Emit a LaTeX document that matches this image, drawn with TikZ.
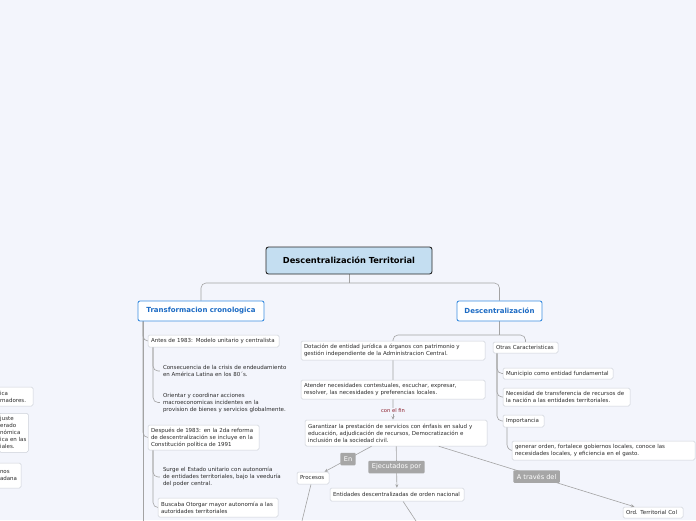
\documentclass[tikz,border=0pt]{standalone}
\usepackage{fontspec}
\setmainfont{DejaVu Sans}
\usetikzlibrary{arrows.meta,calc}
\pgfdeclarelayer{bg}\pgfsetlayers{bg,main}
\definecolor{bgc}{HTML}{F3F5FC}
\definecolor{linec}{HTML}{A3A3A3}
\definecolor{boxb}{HTML}{CDD1D9}
\definecolor{textc}{HTML}{2B2B2B}
\definecolor{blueb}{HTML}{3D8EE0}
\definecolor{bluet}{HTML}{1C6BC4}
\definecolor{rootf}{HTML}{C4DEF1}
\definecolor{lblc}{HTML}{A6A6A6}
\definecolor{finc}{HTML}{8A1C2A}
\tikzset{
 tree/.style={draw=linec, line width=0.6pt},
 sbox/.style={draw=boxb, fill=white, rounded corners=1.5pt, line width=0.5pt, inner xsep=3pt, inner ysep=1pt, align=left, font=\fontsize{5.5}{7}\selectfont, text=textc},
 ntext/.style={sbox, draw=none, fill=none},
 bluebox/.style={draw=blueb, fill=white, rounded corners=2pt, line width=0.9pt, inner xsep=3pt, align=center, font=\fontsize{7}{8}\selectfont\bfseries, text=bluet},
 rootbox/.style={draw=black!85, fill=rootf, rounded corners=2.5pt, line width=0.9pt, inner xsep=3pt, align=center, font=\fontsize{8.3}{9}\selectfont\bfseries},
 lbl/.style={fill=lblc, text=white, rounded corners=1pt, inner xsep=3.5pt, inner ysep=1pt, minimum height=12.5pt, font=\fontsize{6.6}{7}\selectfont},
 finlbl/.style={text=finc, font=\fontsize{5.2}{6}\selectfont, inner sep=1pt},
 arr/.style={tree, -{Stealth[length=3.5pt,width=3pt]}},
}
\newcommand{\bx}[7]{%
 \pgfmathsetmacro{\bxcx}{(#2+#4)/2}%
 \pgfmathsetmacro{\bxcy}{(#3+#5)/2}%
 \pgfmathsetmacro{\bxw}{#4-#2}%
 \pgfmathsetmacro{\bxh}{#5-#3}%
 \pgfmathsetmacro{\bxtw}{#4-#2-6}%
 \node[#6, minimum width=\bxw pt, minimum height=\bxh pt, text width=\bxtw pt] (#1) at (\bxcx,\bxcy) {#7};}
\begin{document}
\begin{tikzpicture}[x=1pt,y=-1pt]
\useasboundingbox (0,0) rectangle (696,520);
\begin{pgfonlayer}{bg}
\fill[bgc] (0,0) rectangle (696,520);
\end{pgfonlayer}
\clip (0,0) rectangle (696,520);

% nodes
\bx{root}{266}{247}{432}{274}{rootbox}{Descentralización Territorial}
\bx{trans}{138}{301}{264}{321}{bluebox}{Transformacion cronologica}
\bx{desc}{457}{301}{542}{321}{bluebox}{Descentralización}

\bx{antes}{148}{335}{279}{347}{sbox}{Antes de 1983: Modelo unitario y centralista}
\bx{cons}{160}{364}{295}{378}{ntext}{Consecuencia de la crisis de endeudamiento\\en América Latina en los 80´s.}
\bx{orient}{160}{392}{295}{413}{ntext}{Orientar y coordinar acciones\\macroeconomicas  incidentes en la\\provision de bienes y servicios globalmente.}
\bx{despues}{148}{425}{259}{450}{sbox}{Después de 1983: en la 2da reforma\\de descentralización se incluye en la\\Constitución política de 1991}
\bx{surge}{160}{466}{295}{488}{ntext}{Surge  el Estado unitario con autonomía\\de entidades territoriales,  bajo la veeduría\\del poder central.}
\bx{buscaba}{158}{498}{278}{517}{sbox}{Buscaba Otorgar mayor autonomía a las\\autoridades territoriales}

\bx{dotacion}{301}{341}{485}{360}{sbox}{Dotación de entidad jurídica a órganos con patrimonio y\\gestión independiente  de la Administracion Central.}
\bx{atender}{301}{380}{485}{399}{sbox}{Atender necesidades contestuales, escuchar, expresar,\\resolver, las necesidades y preferencias locales.}
\bx{garant}{305}{420}{487}{446}{sbox}{Garantizar la prestación de servicios  con énfasis en salud y\\educación, adjudicación de recursos, Democratización e\\inclusión de la sociedad civil.}

\bx{otras}{493}{342}{558}{353}{sbox}{Otras Caracteristicas}
\bx{munic}{503}{368}{613}{379}{sbox}{Municipio como entidad fundamental}
\bx{neces}{503}{388}{630}{406}{sbox}{Necesidad de transferencia de recursos de\\la nación a las entidades territoriales.}
\bx{import}{503}{415}{544}{427}{sbox}{Importancia}
\bx{generar}{512}{441}{695}{460}{sbox}{generar orden, fortalece gobiernos locales, conoce las\\necesidades locales, y eficiencia en el gasto.}

\bx{procesos}{297}{472}{329}{484}{sbox}{Procesos}
\bx{entidades}{330}{488}{464}{501}{sbox}{Entidades descentralizadas de orden nacional}
\bx{ord}{623}{507}{683}{518}{sbox}{Ord. Territorial Col}

\bx{left1}{-3}{387}{33}{406}{sbox}{ica\\rnadores.}
\node[sbox, anchor=north west, inner xsep=1pt, text width=27pt, minimum height=39pt] (left2) at (-1,413) {juste\\erado\\nómica\\ica en las\\iales.};
\bx{left3}{-3}{463}{21}{488}{sbox}{nos\\adana}

\node[finlbl] (fin) at (393,411) {con el fin};

% connectors
\begin{pgfonlayer}{bg}
\coordinate (rj) at (349,283);
\draw[tree] (root.south) -- (rj);
\draw[tree, rounded corners=5pt] (rj) -| (trans.north);
\draw[tree, rounded corners=5pt] (rj) -| (desc.north);

\coordinate (tsp) at (143,321);
\coordinate (tend) at (143,521);
\draw[tree] (tsp) -- (tend);
\draw[tree, rounded corners=5pt] (tsp) |- (antes.west);
\draw[tree, rounded corners=5pt] (tsp) |- (despues.west);

\coordinate (asp) at (153,347);
\draw[tree, rounded corners=5pt] (asp) |- (cons.west);
\draw[tree, rounded corners=5pt] (asp) |- (orient.west);
\coordinate (dsp) at (153,450);
\draw[tree, rounded corners=5pt] (dsp) |- (surge.west);
\draw[tree, rounded corners=5pt] (dsp) |- (buscaba.west);

\coordinate (dj) at (499.5,335);
\draw[tree] (desc.south) -- (dj);
\draw[tree, rounded corners=5pt] (dj) -| (otras.north);
\draw[tree, rounded corners=5pt] (dj) -| (fin.north);
\draw[arr] (fin.south) -- (fin.south |- garant.north);

\coordinate (osp) at (497,353);
\draw[tree, rounded corners=5pt] (osp) |- (munic.west);
\draw[tree, rounded corners=5pt] (osp) |- (neces.west);
\draw[tree, rounded corners=5pt] (osp) |- (import.west);
\coordinate (isp) at (507,427);
\draw[tree, rounded corners=6pt] (isp) |- (generar.west);

\coordinate (pend) at (302,521);
\coordinate (eend) at (416,521);
\draw[tree] ([xshift=-2pt]procesos.south) -- (pend);
\draw[tree] ([xshift=6pt]entidades.south) -- (eend);
\end{pgfonlayer}

\draw[arr] (garant) -- node[lbl] {En} (procesos);
\draw[arr] (garant) -- node[lbl] {Ejecutados por} (entidades);
\draw[arr] (garant) -- node[lbl] {A través del} (ord);
\end{tikzpicture}
\end{document}
